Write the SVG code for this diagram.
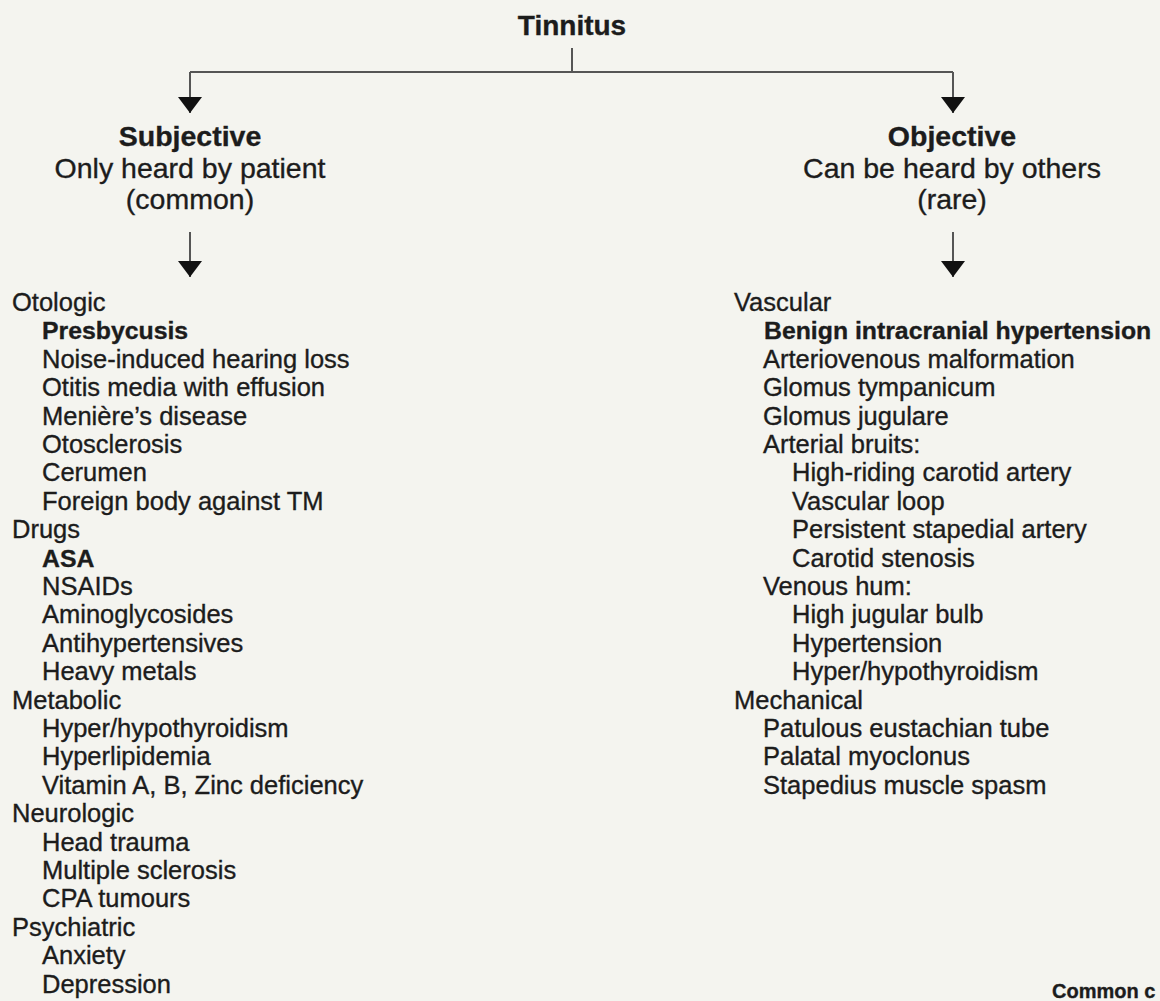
<svg xmlns="http://www.w3.org/2000/svg" width="1160" height="1001" viewBox="0 0 1160 1001">
<defs>
<style>
text{font-family:"Liberation Sans",Arial,sans-serif;fill:#1c1c1c;stroke:#1c1c1c;stroke-width:0.35}
.title{font-size:28px;font-weight:bold;text-anchor:middle}
.hb{font-size:28.5px;font-weight:bold;text-anchor:middle}
.h{font-size:28.5px;text-anchor:middle}
.li{font-size:25.5px}
.b{font-weight:bold;font-size:24.8px}
.foot{font-size:20px;font-weight:bold}
.con{stroke:#555;stroke-width:2;fill:none}
</style>
<marker id="ah" markerUnits="userSpaceOnUse" markerWidth="16" markerHeight="24" viewBox="0 0 16 24" refX="16" refY="12" orient="auto">
<path d="M0,0 L16,12 L0,24 z" fill="#111"/>
</marker>
</defs>
<rect width="1160" height="1001" fill="#f4f4ef"/>
<g id="connectors">
<path class="con" d="M572,48 V72"/>
<path class="con" d="M190,72 H953"/>
<path class="con" d="M190,72 V113" marker-end="url(#ah)"/>
<path class="con" d="M953,72 V113" marker-end="url(#ah)"/>
<path class="con" d="M190,232 V277" marker-end="url(#ah)"/>
<path class="con" d="M953,232 V277" marker-end="url(#ah)"/>
</g>
<g id="tinnitus">
<text class="title" x="572" y="35">Tinnitus</text>
</g>
<g id="subjective">
<text class="hb" x="190" y="146">Subjective</text>
<text class="h" x="190" y="178">Only heard by patient</text>
<text class="h" x="190" y="209">(common)</text>
</g>
<g id="objective">
<text class="hb" x="952" y="146">Objective</text>
<text class="h" x="952" y="178">Can be heard by others</text>
<text class="h" x="952" y="209">(rare)</text>
</g>
<g id="subjective-causes">
<text class="li" x="12" y="311">Otologic</text>
<text class="li b" x="42" y="339.4">Presbycusis</text>
<text class="li" x="42" y="367.8">Noise-induced hearing loss</text>
<text class="li" x="42" y="396.2">Otitis media with effusion</text>
<text class="li" x="42" y="424.6">Menière’s disease</text>
<text class="li" x="42" y="453">Otosclerosis</text>
<text class="li" x="42" y="481.4">Cerumen</text>
<text class="li" x="42" y="509.8">Foreign body against TM</text>
<text class="li" x="12" y="538.2">Drugs</text>
<text class="li b" x="42" y="566.6">ASA</text>
<text class="li" x="42" y="595">NSAIDs</text>
<text class="li" x="42" y="623.4">Aminoglycosides</text>
<text class="li" x="42" y="651.8">Antihypertensives</text>
<text class="li" x="42" y="680.2">Heavy metals</text>
<text class="li" x="12" y="708.6">Metabolic</text>
<text class="li" x="42" y="737">Hyper/hypothyroidism</text>
<text class="li" x="42" y="765.4">Hyperlipidemia</text>
<text class="li" x="42" y="793.8">Vitamin A, B, Zinc deficiency</text>
<text class="li" x="12" y="822.2">Neurologic</text>
<text class="li" x="42" y="850.6">Head trauma</text>
<text class="li" x="42" y="879">Multiple sclerosis</text>
<text class="li" x="42" y="907.4">CPA tumours</text>
<text class="li" x="12" y="935.8">Psychiatric</text>
<text class="li" x="42" y="964.2">Anxiety</text>
<text class="li" x="42" y="992.6">Depression</text>
</g>
<g id="objective-causes">
<text class="li" x="734" y="311">Vascular</text>
<text class="li b" x="764" y="339.4">Benign intracranial hypertension</text>
<text class="li" x="763" y="367.8">Arteriovenous malformation</text>
<text class="li" x="763" y="396.2">Glomus tympanicum</text>
<text class="li" x="763" y="424.6">Glomus jugulare</text>
<text class="li" x="763" y="453">Arterial bruits:</text>
<text class="li" x="792" y="481.4">High-riding carotid artery</text>
<text class="li" x="792" y="509.8">Vascular loop</text>
<text class="li" x="792" y="538.2">Persistent stapedial artery</text>
<text class="li" x="792" y="566.6">Carotid stenosis</text>
<text class="li" x="763" y="595">Venous hum:</text>
<text class="li" x="792" y="623.4">High jugular bulb</text>
<text class="li" x="792" y="651.8">Hypertension</text>
<text class="li" x="792" y="680.2">Hyper/hypothyroidism</text>
<text class="li" x="734" y="708.6">Mechanical</text>
<text class="li" x="763" y="737">Patulous eustachian tube</text>
<text class="li" x="763" y="765.4">Palatal myoclonus</text>
<text class="li" x="763" y="793.8">Stapedius muscle spasm</text>
</g>
<g id="footer">
<text class="foot" x="1052" y="998">Common c</text>
</g>
</svg>
